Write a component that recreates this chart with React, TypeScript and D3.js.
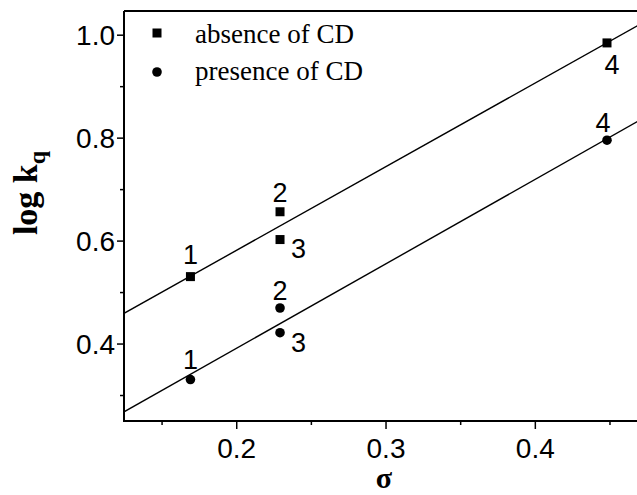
import * as d3 from "d3";

// sigma values for the four compounds
const sigma = [0.169, 0.229, 0.229, 0.448];
const absenceCD = [0.531, 0.657, 0.603, 0.985];
const presenceCD = [0.331, 0.47, 0.422, 0.796];
const pointLabels = ["1", "2", "3", "4"];

const xMajorTicks = [0.2, 0.3, 0.4];
const xMinorTicks = [0.15, 0.25, 0.35, 0.45];
const yMajorTicks = [0.4, 0.6, 0.8, 1.0];
const yMinorTicks = [0.3, 0.5, 0.7, 0.9];

// where each numeric label sits relative to its point [dx, dy]
const absenceLabelPos = [
  [0, -13],
  [0, -10],
  [11, 18],
  [5, 31],
];
const presenceLabelPos = [
  [0, -11],
  [0, -8],
  [11, 19],
  [-4, -8],
];

function fit(xs: number[], ys: number[]) {
  const mx = d3.mean(xs)!;
  const my = d3.mean(ys)!;
  let sxy = 0;
  let sxx = 0;
  xs.forEach((x, i) => {
    sxy += (x - mx) * (ys[i] - my);
    sxx += (x - mx) * (x - mx);
  });
  const slope = sxy / sxx;
  return { slope, intercept: my - slope * mx };
}

export default function App() {
  const width = 637;
  const height = 495;
  const left = 124;
  const right = 660;
  const top = 11;
  const bottom = 421;

  const xScale = d3.scaleLinear().domain([0.1245, 0.4835]).range([left, right]);
  const yScale = d3.scaleLinear().domain([0.2505, 1.047]).range([bottom, top]);

  const sans = "'Liberation Sans', Arial, sans-serif";
  const serif = "'Liberation Serif', 'Times New Roman', serif";

  const series = [
    { ys: absenceCD, shape: "square", labelPos: absenceLabelPos },
    { ys: presenceCD, shape: "circle", labelPos: presenceLabelPos },
  ];

  const line = d3
    .line<number>()
    .x((d) => xScale(d[0]))
    .y((d) => yScale(d[1]));

  const [x0, x1] = xScale.domain();

  return (
    <svg
      width={width}
      height={height}
      style={{ position: "absolute", left: 0, top: 0, background: "#fff" }}
    >
      <defs>
        <clipPath id="plotArea">
          <rect x={left} y={top} width={right - left} height={bottom - top} />
        </clipPath>
      </defs>

      {/* fitted lines */}
      <g clipPath="url(#plotArea)">
        {series.map((s, si) => {
          const f = fit(sigma, s.ys);
          const pts: any = [
            [x0, f.intercept + f.slope * x0],
            [x1, f.intercept + f.slope * x1],
          ];
          return (
            <path key={si} d={line(pts) || ""} fill="none" stroke="#000" strokeWidth={1.4} />
          );
        })}
      </g>

      {/* frame */}
      <path
        d={`M${left},${top}H${right}M${left},${top}V${bottom}H${right}`}
        fill="none"
        stroke="#000"
        strokeWidth={2}
      />

      {/* y axis ticks */}
      {yMajorTicks.map((t) => (
        <g key={t}>
          <line x1={left - 7} x2={left} y1={yScale(t)} y2={yScale(t)} stroke="#000" strokeWidth={1.5} />
          <text
            x={left - 9}
            y={yScale(t)}
            textAnchor="end"
            dominantBaseline="central"
            fontFamily={sans}
            fontSize={28}
          >
            {t.toFixed(1)}
          </text>
        </g>
      ))}
      {yMinorTicks.map((t) => (
        <line key={t} x1={left - 4} x2={left} y1={yScale(t)} y2={yScale(t)} stroke="#000" strokeWidth={1.5} />
      ))}

      {/* x axis ticks */}
      {xMajorTicks.map((t) => (
        <g key={t}>
          <line x1={xScale(t)} x2={xScale(t)} y1={bottom} y2={bottom + 8} stroke="#000" strokeWidth={1.5} />
          <text x={xScale(t)} y={bottom + 37} textAnchor="middle" fontFamily={sans} fontSize={28}>
            {t.toFixed(1)}
          </text>
        </g>
      ))}
      {xMinorTicks.map((t) => (
        <line key={t} x1={xScale(t)} x2={xScale(t)} y1={bottom} y2={bottom + 4} stroke="#000" strokeWidth={1.5} />
      ))}

      {/* points */}
      {series.map((s, si) => (
        <g key={si}>
          {sigma.map((x, i) => {
            const cx = xScale(x);
            const cy = yScale(s.ys[i]);
            return (
              <g key={i}>
                {s.shape === "square" ? (
                  <rect x={cx - 4.5} y={cy - 4.5} width={9} height={9} fill="#000" />
                ) : (
                  <circle cx={cx} cy={cy} r={4.8} fill="#000" />
                )}
                <text
                  x={cx + s.labelPos[i][0]}
                  y={cy + s.labelPos[i][1]}
                  textAnchor={s.labelPos[i][0] > 8 ? "start" : "middle"}
                  fontFamily={sans}
                  fontSize={27}
                >
                  {pointLabels[i]}
                </text>
              </g>
            );
          })}
        </g>
      ))}

      {/* legend */}
      <rect x={152.5} y={28.5} width={9} height={9} fill="#000" />
      <text x={195} y={43} fontFamily={serif} fontSize={27}>
        absence of CD
      </text>
      <circle cx={157} cy={72} r={4.8} fill="#000" />
      <text x={195} y={80} fontFamily={serif} fontSize={27}>
        presence of CD
      </text>

      {/* axis titles */}
      <text
        transform={`translate(37, 193) rotate(-90)`}
        textAnchor="middle"
        fontFamily={serif}
        fontWeight="bold"
        fontSize={34}
      >
        log k<tspan fontSize={24} dy={8}>q</tspan>
      </text>
      <text
        x={384}
        y={488}
        textAnchor="middle"
        fontFamily={serif}
        fontWeight="bold"
        fontSize={30}
      >
        σ
      </text>
    </svg>
  );
}
